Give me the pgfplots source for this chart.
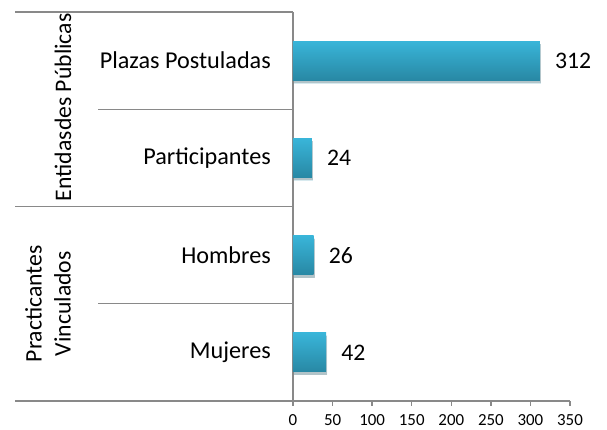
\documentclass[border=0pt]{standalone}
\usepackage{pgfplots}
\pgfplotsset{compat=1.18}
\usepackage{fontspec}
\setmainfont{Carlito}
\definecolor{barTop}{HTML}{39B5D9}
\definecolor{barMid}{HTML}{33A7C9}
\definecolor{barBot}{HTML}{2888A4}
\definecolor{lineGray}{HTML}{898989}
\begin{document}
\begin{tikzpicture}
\path[use as bounding box] (-293pt,-29pt) rectangle (314pt,401pt);
\begin{axis}[
  at={(0pt,0pt)}, anchor=south west,
  scale only axis, width=277pt, height=389pt,
  xmin=0, xmax=350, ymin=-0.5, ymax=3.5,
  axis x line*=bottom, axis y line*=left,
  axis line style={draw=lineGray, line width=1.4pt, -},
  xtick={0,50,...,350},
  tick align=outside,
  x tick style={draw=lineGray, line width=1.4pt},
  major tick length=5pt,
  xticklabel style={font=\fontsize{16.9}{19}\selectfont, inner sep=0pt, yshift=-8pt},
  /pgf/number format/assume math mode=true,
  ytick={0,1,2,3},
  yticklabels={Mujeres,Hombres,Participantes,Plazas Postuladas},
  y tick style={draw=none},
  yticklabel style={font=\fontsize{24.2}{28}\selectfont, inner sep=0pt, xshift=-17pt},
  clip=false,
  xbar, bar width=39pt, bar shift=0pt,
  nodes near coords,
  nodes near coords style={font=\fontsize{23.7}{27}\selectfont, anchor=west, inner sep=0pt, xshift=15pt, text=black},
  every axis plot/.append style={draw=none, top color=barTop, middle color=barMid, bottom color=barBot,
    preaction={fill=black, opacity=0.18, transform canvas={xshift=1pt, yshift=-3pt}}},
]
\addplot coordinates {(42,0)};
\addplot coordinates {(26,1)};
\addplot coordinates {(24,2)};
\addplot coordinates {(312,3)};
\draw[lineGray, line width=1.4pt] (axis cs:0,3.5) -- ++(-278pt,0pt);
\draw[lineGray, line width=1.4pt] (axis cs:0,2.5) -- ++(-195pt,0pt);
\draw[lineGray, line width=1.4pt] (axis cs:0,1.5) -- ++(-278pt,0pt);
\draw[lineGray, line width=1.4pt] (axis cs:0,0.5) -- ++(-195pt,0pt);
\draw[lineGray, line width=1.4pt] (axis cs:0,-0.5) -- ++(-278pt,0pt);
\node[rotate=90, font=\fontsize{23.7}{29}\selectfont, inner sep=0pt] at ([xshift=-230pt]axis cs:0,2.52) {Entidasdes Públicas};
\node[rotate=90, font=\fontsize{23.7}{29}\selectfont, inner sep=0pt, align=center] at ([xshift=-245pt]axis cs:0,0.5) {Practicantes\\Vinculados};
\end{axis}
\end{tikzpicture}
\end{document}
